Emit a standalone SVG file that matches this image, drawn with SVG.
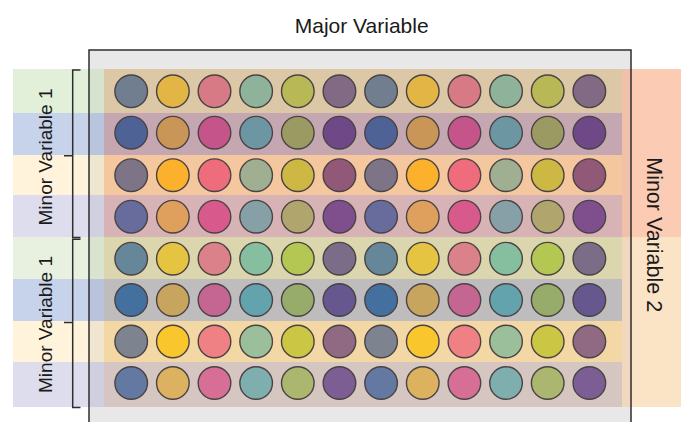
<svg xmlns="http://www.w3.org/2000/svg" width="681" height="422" viewBox="0 0 681 422">
<style>
.t{font-family:"Liberation Sans",Arial,sans-serif;fill:#1a1a1a;text-anchor:middle}
.w{stroke:#4a4343;stroke-width:1.4}
.ln{fill:none;stroke:#2e2e2e;stroke-width:1.5}
</style>
<rect x="0" y="0" width="681" height="422" fill="#ffffff"/>
<g id="plate-box"><rect x="89" y="50" width="542" height="380" fill="#e8e8e8"/></g>
<g id="left-stripes">
<rect x="13" y="69" width="76" height="44" fill="#e2efd9"/>
<rect x="13" y="113" width="76" height="42" fill="#c7d3ea"/>
<rect x="13" y="155" width="76" height="40" fill="#fff3db"/>
<rect x="13" y="195" width="76" height="42" fill="#dedded"/>
<rect x="13" y="237" width="76" height="42" fill="#e8f1df"/>
<rect x="13" y="279" width="76" height="42" fill="#c7d3ea"/>
<rect x="13" y="321" width="76" height="41" fill="#fff3db"/>
<rect x="13" y="362" width="76" height="45" fill="#dedded"/>
<rect x="89" y="69" width="15" height="44" fill="#d6e3cf"/>
<rect x="89" y="113" width="15" height="42" fill="#b9c4dd"/>
<rect x="89" y="155" width="15" height="40" fill="#efe6d0"/>
<rect x="89" y="195" width="15" height="42" fill="#d1d0e0"/>
<rect x="89" y="237" width="15" height="42" fill="#d8e3d0"/>
<rect x="89" y="279" width="15" height="42" fill="#b9c3dc"/>
<rect x="89" y="321" width="15" height="41" fill="#f0e6d0"/>
<rect x="89" y="362" width="15" height="45" fill="#d0cfe0"/>
</g>
<g id="right-stripes">
<rect x="631" y="69" width="50" height="168" fill="#fccbb4"/>
<rect x="631" y="237" width="50" height="170" fill="#fbe3c5"/>
<rect x="622" y="69" width="9" height="168" fill="#f0c0aa"/>
<rect x="622" y="237" width="9" height="170" fill="#efd8bd"/>
</g>
<g id="plate-rows">
<rect x="104" y="69" width="518" height="44" fill="#dcc7a6"/>
<rect x="104" y="113" width="518" height="42" fill="#c4a7b1"/>
<rect x="104" y="155" width="518" height="40" fill="#f4c79e"/>
<rect x="104" y="195" width="518" height="42" fill="#d7b3b6"/>
<rect x="104" y="237" width="518" height="42" fill="#dbd6ad"/>
<rect x="104" y="279" width="518" height="42" fill="#bfbcbd"/>
<rect x="104" y="321" width="518" height="41" fill="#f3d8a5"/>
<rect x="104" y="362" width="518" height="45" fill="#d5c6c1"/>
</g>
<defs>
<g id="r1"><circle class="w" cx="0" r="16.3" fill="#717e8f"/><circle class="w" cx="41.65" r="16.3" fill="#e2b544"/><circle class="w" cx="83.3" r="16.3" fill="#d77a85"/><circle class="w" cx="124.95" r="16.3" fill="#8fb39a"/><circle class="w" cx="166.6" r="16.3" fill="#b8b856"/><circle class="w" cx="208.25" r="16.3" fill="#836a84"/></g>
<g id="r2"><circle class="w" cx="0" r="16.3" fill="#4f6296"/><circle class="w" cx="41.65" r="16.3" fill="#c99658"/><circle class="w" cx="83.3" r="16.3" fill="#c45489"/><circle class="w" cx="124.95" r="16.3" fill="#6c97a2"/><circle class="w" cx="166.6" r="16.3" fill="#9b9a63"/><circle class="w" cx="208.25" r="16.3" fill="#6e4887"/></g>
<g id="r3"><circle class="w" cx="0" r="16.3" fill="#7e7488"/><circle class="w" cx="41.65" r="16.3" fill="#fbb12b"/><circle class="w" cx="83.3" r="16.3" fill="#ef6c7d"/><circle class="w" cx="124.95" r="16.3" fill="#a0ae92"/><circle class="w" cx="166.6" r="16.3" fill="#cdb843"/><circle class="w" cx="208.25" r="16.3" fill="#915878"/></g>
<g id="r4"><circle class="w" cx="0" r="16.3" fill="#676c9c"/><circle class="w" cx="41.65" r="16.3" fill="#e0a05d"/><circle class="w" cx="83.3" r="16.3" fill="#d85a8d"/><circle class="w" cx="124.95" r="16.3" fill="#87a0a7"/><circle class="w" cx="166.6" r="16.3" fill="#b0a66d"/><circle class="w" cx="208.25" r="16.3" fill="#7f4e8d"/></g>
<g id="r5"><circle class="w" cx="0" r="16.3" fill="#668799"/><circle class="w" cx="41.65" r="16.3" fill="#e4c440"/><circle class="w" cx="83.3" r="16.3" fill="#db8189"/><circle class="w" cx="124.95" r="16.3" fill="#86bea0"/><circle class="w" cx="166.6" r="16.3" fill="#b5c753"/><circle class="w" cx="208.25" r="16.3" fill="#7b6d88"/></g>
<g id="r6"><circle class="w" cx="0" r="16.3" fill="#4470a0"/><circle class="w" cx="41.65" r="16.3" fill="#c7a55e"/><circle class="w" cx="83.3" r="16.3" fill="#c46691"/><circle class="w" cx="124.95" r="16.3" fill="#63a3ad"/><circle class="w" cx="166.6" r="16.3" fill="#97ab6a"/><circle class="w" cx="208.25" r="16.3" fill="#66578e"/></g>
<g id="r7"><circle class="w" cx="0" r="16.3" fill="#7d8490"/><circle class="w" cx="41.65" r="16.3" fill="#f9c62d"/><circle class="w" cx="83.3" r="16.3" fill="#ef8185"/><circle class="w" cx="124.95" r="16.3" fill="#9abf9a"/><circle class="w" cx="166.6" r="16.3" fill="#cbc744"/><circle class="w" cx="208.25" r="16.3" fill="#8f6a82"/></g>
<g id="r8"><circle class="w" cx="0" r="16.3" fill="#6479a2"/><circle class="w" cx="41.65" r="16.3" fill="#dcb15f"/><circle class="w" cx="83.3" r="16.3" fill="#d66e96"/><circle class="w" cx="124.95" r="16.3" fill="#7eaeae"/><circle class="w" cx="166.6" r="16.3" fill="#abb66e"/><circle class="w" cx="208.25" r="16.3" fill="#7c5e94"/></g>
</defs>
<g id="wells">
<use href="#r1" x="131.2" y="91.3"/><use href="#r1" x="381.1" y="91.3"/>
<use href="#r2" x="131.2" y="132.7"/><use href="#r2" x="381.1" y="132.7"/>
<use href="#r3" x="131.2" y="175.2"/><use href="#r3" x="381.1" y="175.2"/>
<use href="#r4" x="131.2" y="216.7"/><use href="#r4" x="381.1" y="216.7"/>
<use href="#r5" x="131.2" y="258.7"/><use href="#r5" x="381.1" y="258.7"/>
<use href="#r6" x="131.2" y="300"/><use href="#r6" x="381.1" y="300"/>
<use href="#r7" x="131.2" y="341.5"/><use href="#r7" x="381.1" y="341.5"/>
<use href="#r8" x="131.2" y="383"/><use href="#r8" x="381.1" y="383"/>
</g>
<g id="box-outline"><path class="ln" d="M89,430 V50 H631 V430"/></g>
<g id="brackets">
<path class="ln" d="M80.5,70 H72.7 V237.5 H80.5 M72.7,155.7 H64"/>
<path class="ln" d="M80.5,239.3 H72.7 V407.5 H80.5 M72.7,322.5 H64"/>
</g>
<g id="labels">
<text class="t" x="361.7" y="33" font-size="21">Major Variable</text>
<text class="t" font-size="19" transform="translate(52,157) rotate(-90)">Minor Variable 1</text>
<text class="t" font-size="19" transform="translate(52,324.5) rotate(-90)">Minor Variable 1</text>
<text class="t" font-size="21.5" transform="translate(647,234.7) rotate(90)">Minor Variable 2</text>
</g>
</svg>
